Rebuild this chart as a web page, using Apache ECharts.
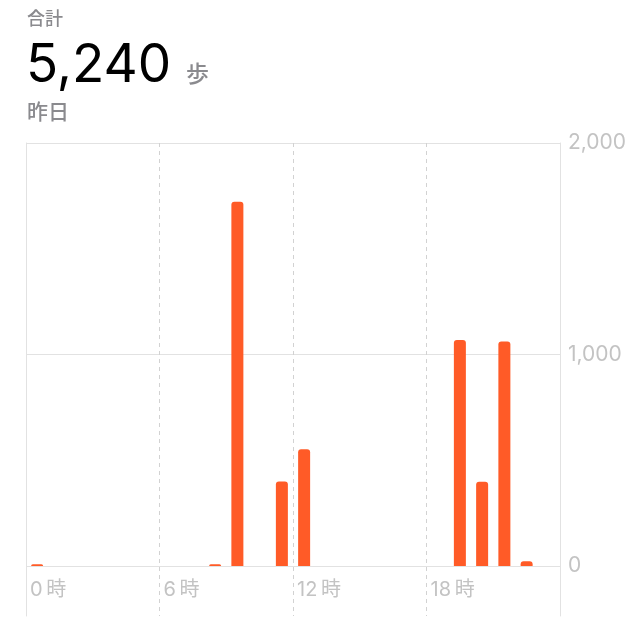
<!DOCTYPE html>
<html>
<head>
<meta charset="utf-8">
<script src="https://cdn.jsdelivr.net/npm/echarts@6/dist/echarts.min.js"></script>
<style>
html,body{margin:0;padding:0;background:#fff;}
#main{width:640px;height:624px;}
</style>
</head>
<body>
<div id="main"></div>
<script>
// hourly steps for yesterday (0-23 h)
var hours = [];
for (var h = 0; h < 24; h++) { hours.push(h + ''); }
var steps = [8,0,0,0,0,0,0,0,8,1722,0,400,552,0,0,0,0,0,0,1068,398,1062,22,0];
var yTicks = [0, 1000, 2000];
var xTicks = [0, 6, 12, 18];
var totalText = '5,240';

var latin = 'Inter, "Noto Sans CJK JP", sans-serif';
var grayLabel = '#c3c3c3';

var chart = echarts.init(document.getElementById('main'));
var option = {
	animation: false,
	backgroundColor: '#fff',
	graphic: [
		{ type: 'text', x: 27, y: 20, style: { text: '合計', font: '500 18px ' + latin, fill: '#8a8a8e', verticalAlign: 'middle' } },
		{ type: 'text', x: 26, y: 66, style: { text: totalText, font: '400 53px ' + latin, fill: '#000', verticalAlign: 'middle' } },
		{ type: 'text', x: 186, y: 75, style: { text: '歩', font: '500 23px ' + latin, fill: '#8a8a8e', verticalAlign: 'middle' } },
		{ type: 'text', x: 27, y: 113, style: { text: '昨日', font: '500 21px ' + latin, fill: '#8a8a8e', verticalAlign: 'middle' } }
	],
	grid: [
		{ left: 26, right: 80, top: 143, bottom: 58 },
		{ left: 26, right: 80, top: 143, bottom: 8 }
	],
	xAxis: [
		{
			type: 'category', gridIndex: 0, data: hours,
			axisLine: { show: false }, axisTick: { show: false }, axisLabel: { show: false }, splitLine: { show: false }
		},
		{
			type: 'value', gridIndex: 0, min: 0, max: 24, interval: 6, position: 'bottom',
			axisLine: { show: false }, axisTick: { show: false }, splitLine: { show: false },
			axisLabel: {
				margin: 14, align: 'left', padding: [0, 0, 0, 4],
				color: grayLabel, fontSize: 20, fontFamily: latin,
				formatter: function (v) { return xTicks.indexOf(v) >= 0 ? v + '\u2009時' : ''; }
			}
		},
		{
			type: 'value', gridIndex: 1, min: 0, max: 24, interval: 6,
			axisLine: { show: false }, axisTick: { show: false }, axisLabel: { show: false },
			splitLine: { show: true, lineStyle: { color: '#d2d2d2', type: [4, 4], width: 1 } }
		}
	],
	yAxis: [
		{
			type: 'value', gridIndex: 0, position: 'right', min: yTicks[0], max: yTicks[yTicks.length - 1], interval: 1000,
			axisLine: { show: false }, axisTick: { show: false },
			axisLabel: {
				margin: 8, color: grayLabel, fontSize: 21, fontFamily: latin,
				formatter: function (v) { return v.toLocaleString('en-US'); }
			},
			splitLine: { lineStyle: { color: '#e2e2e2', width: 1 } }
		},
		{
			type: 'value', gridIndex: 1, position: 'left', min: 0, max: 1,
			axisLine: { show: true, lineStyle: { color: '#e2e2e2', width: 1 } },
			axisTick: { show: false }, axisLabel: { show: false }, splitLine: { show: false }
		},
		{
			type: 'value', gridIndex: 1, position: 'right', min: 0, max: 1,
			axisLine: { show: true, lineStyle: { color: '#e2e2e2', width: 1 } },
			axisTick: { show: false }, axisLabel: { show: false }, splitLine: { show: false }
		}
	],
	series: [
		{
			type: 'bar', xAxisIndex: 0, yAxisIndex: 0,
			data: steps, barWidth: 12,
			itemStyle: { color: '#ff5b27', borderRadius: [3, 3, 0, 0] }
		}
	]
};
chart.setOption(option);
</script>
</body>
</html>
